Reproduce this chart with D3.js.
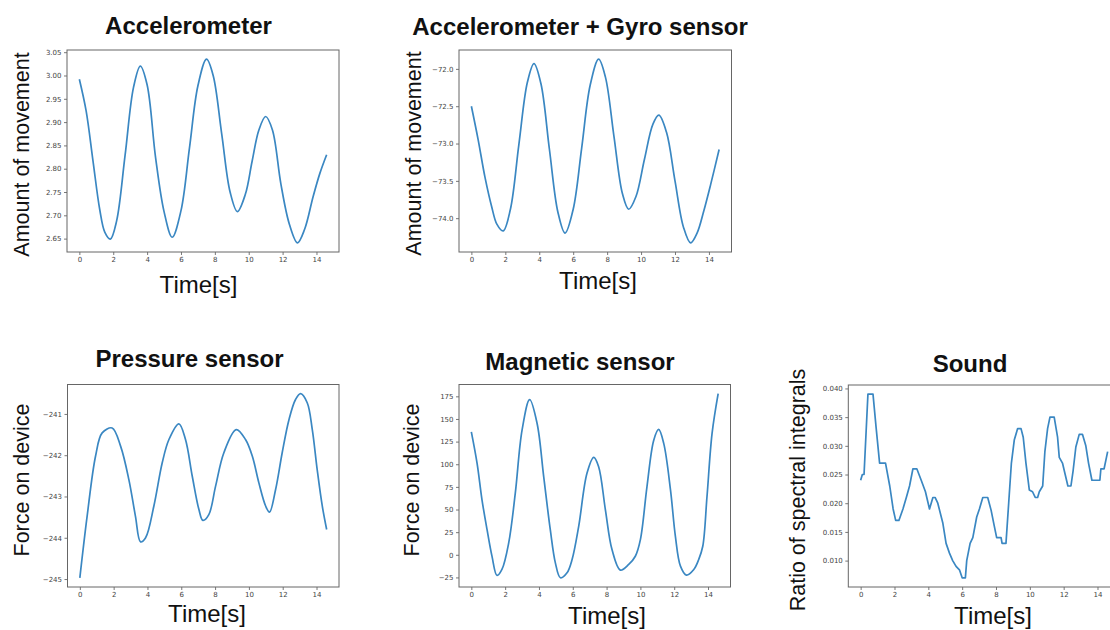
<!DOCTYPE html>
<html><head><meta charset="utf-8">
<script src="https://cdn.jsdelivr.net/npm/d3@7"></script>
<style>html,body{margin:0;padding:0;background:#fff;} svg{display:block;}</style>
</head><body><svg id="c" width="1110" height="630"></svg>
<script>
// ---------- data (time in s, value) ----------
const xTicks = [0, 2, 4, 6, 8, 10, 12, 14];

const accelerometer = [[0,2.992],[0.4,2.924],[0.8,2.818],[1.2,2.713],[1.5,2.664],[1.83,2.649],[2.2,2.688],[2.7,2.829],[3.2,2.975],[3.6,3.02],[4.0,2.98],[4.5,2.824],[5.0,2.708],[5.48,2.653],[6.0,2.71],[6.5,2.844],[7.0,2.978],[7.51,3.035],[7.9,3.0],[8.4,2.876],[8.9,2.75],[9.33,2.708],[9.8,2.745],[10.2,2.816],[10.6,2.883],[11.0,2.912],[11.4,2.883],[11.9,2.767],[12.4,2.681],[12.88,2.641],[13.3,2.67],[13.8,2.74],[14.2,2.79],[14.6,2.83]];
const accelTicks = [2.65, 2.70, 2.75, 2.80, 2.85, 2.90, 2.95, 3.00, 3.05];

const gyro = [[0,-72.5],[0.4,-72.95],[0.8,-73.45],[1.2,-73.85],[1.5,-74.08],[1.87,-74.17],[2.3,-73.88],[2.8,-73.01],[3.3,-72.18],[3.69,-71.93],[4.1,-72.2],[4.6,-73.08],[5.1,-73.92],[5.52,-74.2],[6.0,-73.88],[6.5,-73.06],[7.0,-72.22],[7.5,-71.87],[7.9,-72.11],[8.4,-72.9],[8.9,-73.67],[9.27,-73.88],[9.7,-73.71],[10.2,-73.21],[10.7,-72.74],[11.05,-72.62],[11.5,-72.85],[12.0,-73.5],[12.5,-74.12],[12.92,-74.33],[13.3,-74.2],[13.7,-73.9],[14.1,-73.55],[14.6,-73.08]];
const gyroTicks = [-74.0, -73.5, -73.0, -72.5, -72.0];

const pressure = [[0,-244.97],[0.43,-243.48],[0.93,-242.02],[1.32,-241.46],[1.91,-241.34],[2.41,-241.78],[2.9,-242.59],[3.29,-243.48],[3.59,-244.1],[3.89,-244.0],[4.38,-243.23],[4.87,-242.19],[5.27,-241.62],[5.86,-241.24],[6.25,-241.62],[6.65,-242.51],[7.04,-243.31],[7.28,-243.58],[7.63,-243.44],[8.03,-242.75],[8.52,-241.94],[9.25,-241.38],[9.8,-241.62],[10.2,-242.02],[10.59,-242.67],[10.99,-243.23],[11.22,-243.38],[11.58,-242.83],[11.97,-241.94],[12.37,-241.14],[12.76,-240.65],[13.06,-240.51],[13.45,-240.73],[13.75,-241.38],[14.04,-242.35],[14.34,-243.23],[14.6,-243.8]];
const pressureTicks = [-245, -244, -243, -242, -241];

const magnetic = [[0,135.8],[0.34,101],[0.63,60.7],[0.93,27.7],[1.22,-1.5],[1.52,-22.8],[1.81,-16.2],[2.21,13.1],[2.6,68.0],[3.0,137.6],[3.45,171.3],[3.89,145],[4.28,86.4],[4.67,27.7],[4.97,-8.9],[5.27,-25.4],[5.66,-19.9],[5.96,-5.2],[6.35,31.4],[6.84,90],[7.24,107.6],[7.53,97.3],[7.93,49.7],[8.32,5.8],[8.82,-17],[9.31,-10.7],[9.7,-1.6],[10.0,16.8],[10.39,75.4],[10.79,126.6],[11.08,138.4],[11.38,123],[11.78,71.7],[12.07,20.4],[12.37,-12.5],[12.72,-22.4],[13.16,-16.2],[13.45,-5.2],[13.69,9.4],[13.94,64.4],[14.24,134],[14.6,177.9]];
const magneticTicks = [-25, 0, 25, 50, 75, 100, 125, 150, 175];

const sound = [[0,0.024],[0.1,0.025],[0.2,0.025],[0.43,0.039],[0.73,0.039],[0.92,0.033],[1.12,0.027],[1.47,0.027],[1.72,0.023],[1.92,0.019],[2.07,0.017],[2.26,0.017],[2.5,0.019],[2.7,0.021],[2.89,0.023],[3.09,0.026],[3.32,0.026],[3.58,0.024],[3.83,0.022],[4.07,0.019],[4.27,0.021],[4.4,0.021],[4.56,0.020],[4.86,0.0165],[5.05,0.013],[5.25,0.0113],[5.44,0.010],[5.64,0.009],[5.84,0.0084],[6.0,0.007],[6.19,0.007],[6.27,0.010],[6.47,0.013],[6.63,0.014],[6.86,0.0176],[7.02,0.019],[7.22,0.021],[7.51,0.021],[7.71,0.0188],[7.9,0.016],[8.04,0.014],[8.3,0.014],[8.36,0.013],[8.59,0.013],[8.75,0.020],[8.91,0.027],[9.08,0.031],[9.28,0.033],[9.48,0.033],[9.61,0.0315],[9.77,0.027],[9.97,0.0223],[10.16,0.022],[10.32,0.021],[10.46,0.021],[10.56,0.022],[10.76,0.023],[10.89,0.029],[11.05,0.033],[11.19,0.035],[11.44,0.035],[11.64,0.0315],[11.74,0.028],[11.93,0.027],[12.09,0.025],[12.25,0.023],[12.43,0.023],[12.56,0.0257],[12.72,0.0298],[12.92,0.032],[13.11,0.032],[13.31,0.030],[13.47,0.027],[13.67,0.024],[14.14,0.024],[14.2,0.026],[14.39,0.026],[14.6,0.029]];
const soundTicks = [0.010, 0.015, 0.020, 0.025, 0.030, 0.035, 0.040];

// ---------- layout ----------
const panels = [
  {title:"Accelerometer", ylabel:"Amount of movement", data:accelerometer, ticks:accelTicks, fmt:d3.format(".2f"), curve:d3.curveCatmullRom,
   frame:[67,50,339,252], titleX:188.5, titleY:34, xlabX:198.5, xlabY:293, ylabX:28.5, ylabY:154.5},
  {title:"Accelerometer + Gyro sensor", ylabel:"Amount of movement", data:gyro, ticks:gyroTicks, fmt:d3.format(".1f"), curve:d3.curveCatmullRom,
   frame:[459,50,731.5,252], titleX:580, titleY:35, xlabX:598, xlabY:289, ylabX:421, ylabY:153.5},
  {title:"Pressure sensor", ylabel:"Force on device", data:pressure, ticks:pressureTicks, fmt:d3.format("d"), curve:d3.curveCatmullRom,
   frame:[67.5,384.5,339,587], titleX:189.5, titleY:367, xlabX:207, xlabY:622, ylabX:28.5, ylabY:480},
  {title:"Magnetic sensor", ylabel:"Force on device", data:magnetic, ticks:magneticTicks, fmt:d3.format("d"), curve:d3.curveCatmullRom,
   frame:[459,384.5,730.5,587], titleX:580, titleY:370, xlabX:607, xlabY:624, ylabX:419, ylabY:480},
  {title:"Sound", ylabel:"Ratio of spectral integrals", data:sound, ticks:soundTicks, fmt:d3.format(".3f"), curve:d3.curveLinear,
   frame:[848.3,385,1120,587], titleX:970, titleY:372, xlabX:993, xlabY:624, ylabX:805, ylabY:490}
];

const svg = d3.select("#c");
const lineColor = "#3a87c2";

function padded(ext){ const r = ext[1]-ext[0]; return [ext[0]-0.05*r, ext[1]+0.05*r]; }

panels.forEach(p => {
  const [x0,y0,x1,y1] = p.frame;
  const x = d3.scaleLinear().domain(padded(d3.extent(p.data, d=>d[0]))).range([x0,x1]);
  const y = d3.scaleLinear().domain(padded(d3.extent(p.data, d=>d[1]))).range([y1,y0]);
  const g = svg.append("g");

  // axes
  const ax = g.append("g").attr("transform",`translate(0,${y1})`)
    .call(d3.axisBottom(x).tickValues(xTicks).tickSize(3).tickPadding(2.5).tickFormat(d3.format("d")));
  const ay = g.append("g").attr("transform",`translate(${x0},0)`)
    .call(d3.axisLeft(y).tickValues(p.ticks).tickSize(3).tickPadding(2.5).tickFormat(p.fmt));
  [ax, ay].forEach(a => {
    a.select(".domain").remove();
    a.selectAll(".tick line").attr("stroke","#555").attr("stroke-width",0.8);
    a.selectAll(".tick text").attr("fill","#444").style("font-family","DejaVu Sans, sans-serif").style("font-size","7px");
  });

  // frame
  g.append("rect").attr("x",x0).attr("y",y0).attr("width",x1-x0).attr("height",y1-y0)
    .attr("fill","none").attr("stroke","#666").attr("stroke-width",1);

  // line
  g.append("path").datum(p.data)
    .attr("d", d3.line().x(d=>x(d[0])).y(d=>y(d[1])).curve(p.curve))
    .attr("fill","none").attr("stroke",lineColor).attr("stroke-width",1.7).attr("stroke-linejoin","round");

  // texts
  g.append("text").attr("x",p.titleX).attr("y",p.titleY).attr("text-anchor","middle")
    .style("font-family","Liberation Sans, Arial, sans-serif").style("font-weight","bold").style("font-size","24px")
    .attr("fill","#111").text(p.title);
  g.append("text").attr("x",p.xlabX).attr("y",p.xlabY).attr("text-anchor","middle")
    .style("font-family","Liberation Sans, Arial, sans-serif").style("font-size","24px")
    .attr("fill","#111").text("Time[s]");
  g.append("text").attr("transform",`translate(${p.ylabX},${p.ylabY}) rotate(-90)`).attr("text-anchor","middle")
    .style("font-family","Liberation Sans, Arial, sans-serif").style("font-size","21.5px")
    .attr("fill","#111").text(p.ylabel);
});
</script>
</body></html>
